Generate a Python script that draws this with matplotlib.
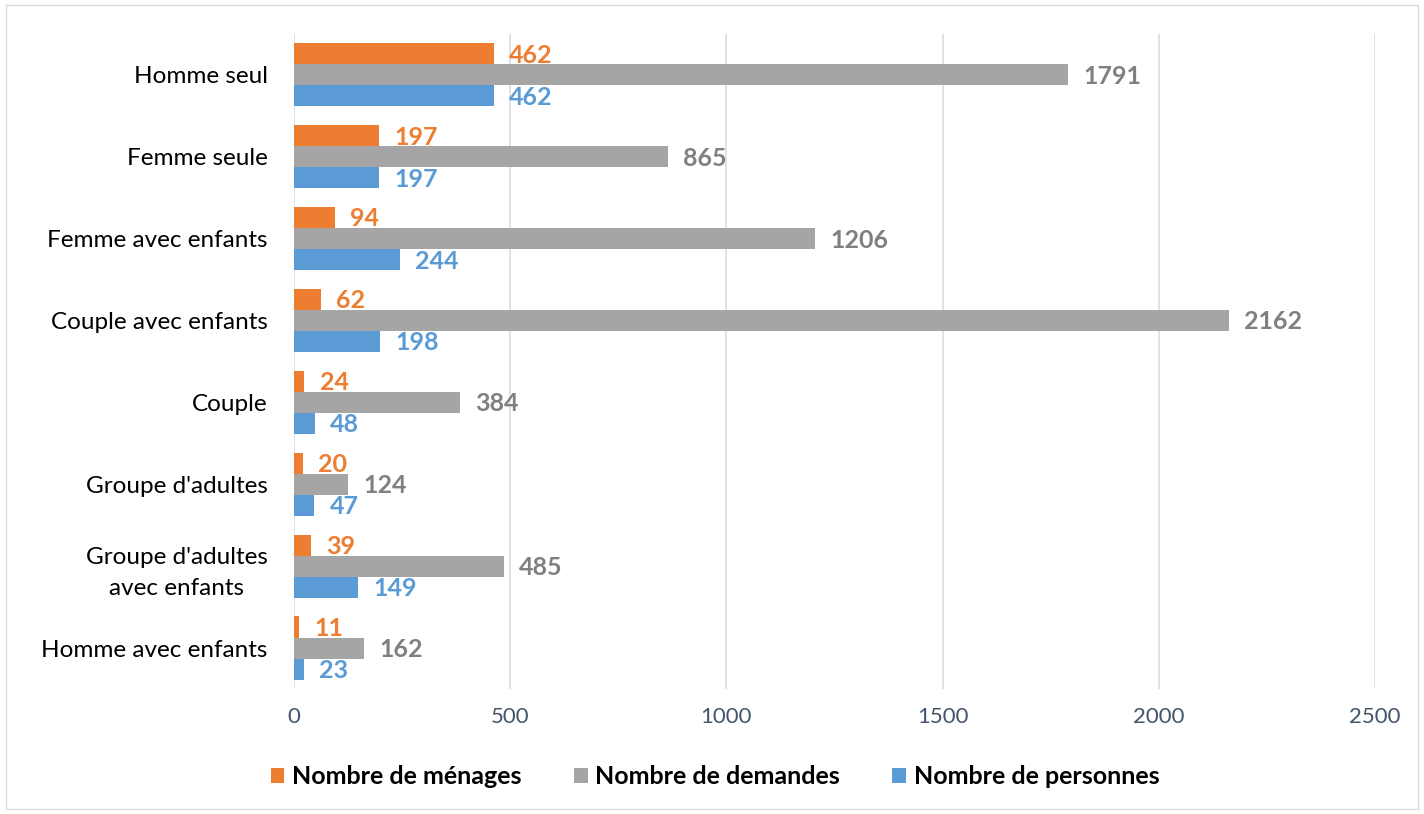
import numpy as np
import matplotlib
matplotlib.use("Agg")
import matplotlib.pyplot as plt
from matplotlib.patches import Rectangle

plt.rcParams["font.family"] = ["Lato", "DejaVu Sans"]

categories = [
    "Homme seul",
    "Femme seule",
    "Femme avec enfants",
    "Couple avec enfants",
    "Couple",
    "Groupe d'adultes",
    "Groupe d'adultes\navec enfants",
    "Homme avec enfants",
]
menages = [462, 197, 94, 62, 24, 20, 39, 11]
demandes = [1791, 865, 1206, 2162, 384, 124, 485, 162]
personnes = [462, 197, 244, 198, 48, 47, 149, 23]

series = [
    ("Nombre de ménages", menages, "#ED7D31", "#ED7D31"),
    ("Nombre de demandes", demandes, "#A5A5A5", "#808080"),
    ("Nombre de personnes", personnes, "#5B9BD5", "#5B9BD5"),
]

fig = plt.figure(figsize=(14.24, 8.14), dpi=100)
ax = fig.add_axes([0.2065, 0.1536, 0.759, 0.8047])

y = np.arange(len(categories))
h = 0.257
offsets = [-h, 0, h]

for (name, vals, color, lcolor), off in zip(series, offsets):
    bars = ax.barh(y + off, vals, height=h, color=color, label=name, zorder=3)
    for b, v in zip(bars, vals):
        ax.annotate(str(v), (b.get_width(), b.get_y() + b.get_height() / 2),
                    xytext=(11, -1), textcoords="offset points",
                    va="center", ha="left", fontsize=18, fontweight="bold",
                    color=lcolor)

ax.set_xlim(0, 2500)
ax.set_ylim(len(categories) - 0.5, -0.5)
ax.set_xticks(np.arange(0, 2501, 500))
ax.set_yticks(y)
ax.set_yticklabels(categories, fontsize=17.5, color="#000000", linespacing=1.6)
ax.tick_params(axis="x", labelsize=16, colors="#44546A", length=0, pad=13)
ax.tick_params(axis="y", length=0, pad=19)
for lbl in ax.get_yticklabels():
    lbl.set_multialignment("center")
ax.grid(axis="x", color="#D9DDE3", linewidth=1.2, zorder=0)
for s in ax.spines.values():
    s.set_visible(False)

leg = fig.legend(loc="center", bbox_to_anchor=(0.502, 0.046), ncol=3, frameon=False,
                 prop={"size": 18, "weight": "bold"}, handlelength=0.55,
                 handleheight=0.55, handletextpad=0.3, columnspacing=2.1)

fig.patches.append(Rectangle((0.004, 0.006), 0.992, 0.988, transform=fig.transFigure,
                             fill=False, edgecolor="#D9D9D9", linewidth=1))

fig.savefig("out.png", dpi=100)
